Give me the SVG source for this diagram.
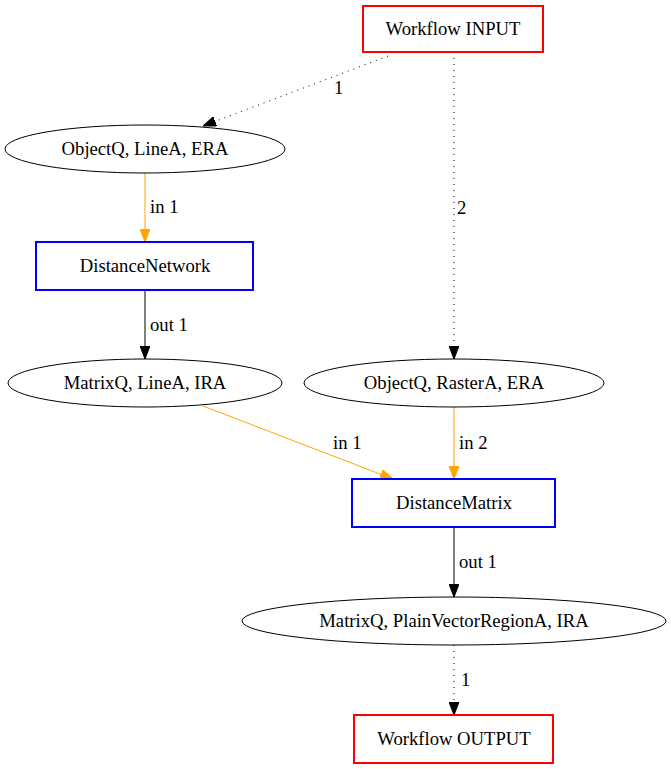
<svg xmlns="http://www.w3.org/2000/svg" width="671" height="769" viewBox="0 0 671 769">
<defs>
<marker id="ab" markerWidth="13" markerHeight="10" refX="13" refY="5" orient="auto" markerUnits="userSpaceOnUse"><path d="M0,0 L13,5 L0,10 Z" fill="#000" stroke="#000"/></marker>
<marker id="ao" markerWidth="13" markerHeight="10" refX="13" refY="5" orient="auto" markerUnits="userSpaceOnUse"><path d="M0,0 L13,5 L0,10 Z" fill="orange" stroke="orange"/></marker>
</defs>
<style>
text{font-family:"Liberation Serif","Times New Roman",serif;font-size:18.67px;fill:#000}
.n text{text-anchor:middle}
.io{fill:#fff;stroke:red;stroke-width:2}
.op{fill:#fff;stroke:blue;stroke-width:2}
.d{fill:#fff;stroke:#000;stroke-width:1}
.e{fill:none;stroke:#000;stroke-width:1}
.dot{stroke-dasharray:1,5}
.or{stroke:orange}
</style>
<rect width="671" height="769" fill="#fff"/>
<g id="edges">
<path class="e dot" d="M388,56 L203,126" marker-end="url(#ab)"/>
<text x="334" y="94">1</text>
<path class="e dot" d="M454,52 L454,359" marker-end="url(#ab)"/>
<text x="457" y="214">2</text>
<path class="e or" d="M145,173 L145,242" marker-end="url(#ao)"/>
<text x="150" y="213">in 1</text>
<path class="e" d="M145,290 L145,359" marker-end="url(#ab)"/>
<text x="150" y="331">out 1</text>
<path class="e or" d="M203,406 L393,479" marker-end="url(#ao)"/>
<text x="333" y="449">in 1</text>
<path class="e or" d="M454,407 L454,479" marker-end="url(#ao)"/>
<text x="459" y="449">in 2</text>
<path class="e" d="M454,527 L454,597" marker-end="url(#ab)"/>
<text x="459" y="568">out 1</text>
<path class="e dot" d="M454,645 L454,715" marker-end="url(#ab)"/>
<text x="461" y="686">1</text>
</g>
<g id="n_input" class="n"><rect class="io" x="363" y="6" width="180" height="46"/><text x="453" y="35">Workflow INPUT</text></g>
<g id="n_objline" class="n"><ellipse class="d" cx="145" cy="149" rx="140" ry="24"/><text x="145" y="155">ObjectQ, LineA, ERA</text></g>
<g id="n_distnet" class="n"><rect class="op" x="36" y="242" width="217" height="48"/><text x="145" y="272">DistanceNetwork</text></g>
<g id="n_matline" class="n"><ellipse class="d" cx="145" cy="383" rx="137" ry="24"/><text x="145" y="389">MatrixQ, LineA, IRA</text></g>
<g id="n_objraster" class="n"><ellipse class="d" cx="454" cy="383" rx="150" ry="24"/><text x="454" y="389">ObjectQ, RasterA, ERA</text></g>
<g id="n_distmat" class="n"><rect class="op" x="352" y="479" width="203" height="48"/><text x="454" y="509">DistanceMatrix</text></g>
<g id="n_matpvr" class="n"><ellipse class="d" cx="454" cy="621" rx="212" ry="24"/><text x="454" y="627">MatrixQ, PlainVectorRegionA, IRA</text></g>
<g id="n_output" class="n"><rect class="io" x="354" y="715" width="199" height="48"/><text x="454" y="745">Workflow OUTPUT</text></g>
</svg>
